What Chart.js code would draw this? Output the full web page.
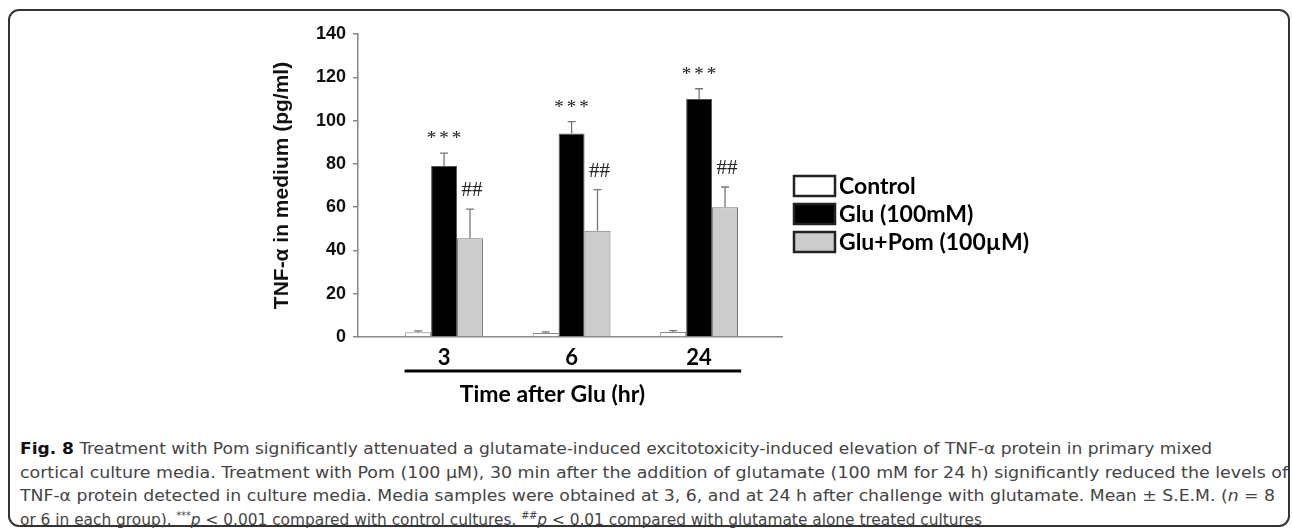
<!DOCTYPE html>
<html>
<head>
<meta charset="utf-8">
<script src="https://cdn.jsdelivr.net/npm/chart.js@4"></script>
<style>
  body { margin: 0; background: #fff; }
  .frame { position: absolute; left: 8px; top: 9px; width: 1282px; height: 518px; border: 2px solid #333; border-radius: 11px; box-sizing: border-box; }
  #chart { position: absolute; left: 0; top: 0; }
  .caption { position: absolute; left: 20px; top: 437px; font-family: "Liberation Sans Narrow", "DejaVu Sans Condensed", sans-serif; font-size: 16px; color: #444; line-height: 23.5px; }
  .caption div { white-space: nowrap; transform-origin: left center; display: table; }
  .caption b { color: #111; }
  .caption sup { font-size: 10px; line-height: 0; }
</style>
</head>
<body>
<div class="frame"></div>
<canvas id="chart" width="1292" height="430"></canvas>
<div class="caption">
  <div><b>Fig. 8</b> Treatment with Pom significantly attenuated a glutamate-induced excitotoxicity-induced elevation of TNF-α protein in primary mixed</div>
  <div>cortical culture media. Treatment with Pom (100 μM), 30 min after the addition of glutamate (100 mM for 24 h) significantly reduced the levels of</div>
  <div>TNF-α protein detected in culture media. Media samples were obtained at 3, 6, and at 24 h after challenge with glutamate. Mean ± S.E.M. (<i>n</i> = 8</div>
  <div>or 6 in each group). <sup>***</sup><i>p</i> &lt; 0.001 compared with control cultures. <sup>##</sup><i>p</i> &lt; 0.01 compared with glutamate alone treated cultures</div>
</div>
<script>
// time points (hr)
const timepoints = ['3', '6', '24'];
// TNF-a in medium (pg/ml), mean and S.E.M.
const controlMean = [2.2, 1.8, 2.3];
const controlSem = [0.6, 0.6, 0.6];
const gluMean = [79, 94, 110];
const gluSem = [6, 5.5, 4.7];
const pomMean = [45.6, 49.1, 59.9];
const pomSem = [13.5, 19, 9.4];
// significance marks
const gluMarks = ['***', '***', '***'];
const pomMarks = ['##', '##', '##'];
const seriesNames = ['Control', 'Glu (100mM)', 'Glu+Pom (100µM)'];
const yTicks = [0, 20, 40, 60, 80, 100, 120, 140];

// stretch caption lines to the widths they have in the figure
const captionWidths = [1192, 1268, 1255, 962];
document.querySelectorAll('.caption div').forEach((d, i) => {
  const w = d.getBoundingClientRect().width;
  d.style.transform = 'scaleX(' + (captionWidths[i] / w) + ')';
});

const pts = (arr) => arr.map((v, i) => ({ x: i, y: v }));

const extras = {
  id: 'extras',
  afterDatasetsDraw(chart) {
    const ctx = chart.ctx;
    const y = chart.scales.y;
    const area = chart.chartArea;
    ctx.save();
    // error bars + marks
    chart.data.datasets.forEach((ds, di) => {
      const meta = chart.getDatasetMeta(di);
      meta.data.forEach((bar, i) => {
        const top = y.getPixelForValue(ds.data[i].y);
        const end = y.getPixelForValue(ds.data[i].y + ds.sem[i]);
        ctx.strokeStyle = '#777';
        ctx.lineWidth = 1.3;
        ctx.beginPath();
        ctx.moveTo(bar.x, top);
        ctx.lineTo(bar.x, end);
        ctx.moveTo(bar.x - 4, end);
        ctx.lineTo(bar.x + 4, end);
        ctx.stroke();
        if (ds.marks) {
          const stars = ds.marks[i] === '***';
          ctx.fillStyle = '#222';
          ctx.textAlign = 'center';
          ctx.textBaseline = 'alphabetic';
          ctx.letterSpacing = stars ? '3px' : '0px';
          ctx.font = stars ? '19px "Liberation Serif"' : '21px "Liberation Serif"';
          ctx.fillText(ds.marks[i], bar.x + (stars ? 1.5 : 2), end - (stars ? 9 : 13));
        }
      });
    });
    ctx.letterSpacing = '0px';
    // bracket line and x title
    const x = chart.scales.x;
    ctx.strokeStyle = '#000';
    ctx.lineWidth = 3;
    ctx.beginPath();
    ctx.moveTo(x.getPixelForValue(-0.31), area.bottom + 34);
    ctx.lineTo(x.getPixelForValue(2.33), area.bottom + 34);
    ctx.stroke();
    ctx.fillStyle = '#000';
    ctx.font = 'bold 23px Lato';
    ctx.textAlign = 'center';
    ctx.textBaseline = 'middle';
    ctx.fillText('Time after Glu (hr)', x.getPixelForValue(0.85), area.bottom + 58);
    // legend
    ctx.textAlign = 'left';
    chart.data.datasets.forEach((ds, di) => {
      const cy = 186 + di * 28;
      ctx.fillStyle = ds.backgroundColor;
      ctx.fillRect(794, cy - 10, 41, 20);
      ctx.strokeStyle = '#222';
      ctx.lineWidth = 2.5;
      ctx.strokeRect(794, cy - 10, 41, 20);
      ctx.fillStyle = '#000';
      ctx.font = 'bold 23px Lato';
      ctx.fillText(ds.label, 839, cy + 1);
    });
    ctx.restore();
  }
};

new Chart(document.getElementById('chart'), {
  type: 'bar',
  data: {
    datasets: [
      { label: seriesNames[0], data: pts(controlMean), sem: controlSem, backgroundColor: '#ffffff', borderColor: '#888', borderWidth: 1 },
      { label: seriesNames[1], data: pts(gluMean), sem: gluSem, marks: gluMarks, backgroundColor: '#000000', borderColor: '#555', borderWidth: 1 },
      { label: seriesNames[2], data: pts(pomMean), sem: pomSem, marks: pomMarks, backgroundColor: '#cccccc', borderColor: '#777', borderWidth: 1 }
    ]
  },
  options: {
    responsive: false,
    animation: false,
    devicePixelRatio: 1,
    categoryPercentage: 0.61,
    barPercentage: 1,
    layout: { padding: { left: 270, right: 510, top: 34, bottom: 0 } },
    plugins: { legend: { display: false }, tooltip: { enabled: false } },
    scales: {
      x: {
        type: 'linear',
        offset: false,
        min: -0.675,
        max: 2.65,
        afterFit: (s) => { s.height = 93; },
        afterBuildTicks: (s) => { s.ticks = timepoints.map((t, i) => ({ value: i })); },
        ticks: { callback: (v) => timepoints[v], color: '#000', font: { family: 'Lato', weight: 'bold', size: 22 }, padding: 0, maxRotation: 0 },
        grid: { display: false },
        border: { color: '#888', width: 1.5 }
      },
      y: {
        min: 0,
        max: 140,
        afterFit: (s) => { s.width = 88; },
        afterBuildTicks: (s) => { s.ticks = yTicks.map(v => ({ value: v })); },
        ticks: { color: '#111', font: { family: 'Liberation Sans', weight: 'bold', size: 18 }, padding: 7 },
        grid: { drawOnChartArea: false, drawTicks: true, tickLength: 5, color: '#888', lineWidth: 1.5 },
        border: { color: '#888', width: 1.5 },
        title: { display: true, text: 'TNF-α in medium (pg/ml)', color: '#111', font: { family: 'Liberation Sans', weight: 'bold', size: 21 }, padding: { top: 0, bottom: 0 } }
      }
    }
  },
  plugins: [extras]
});
</script>
</body>
</html>
